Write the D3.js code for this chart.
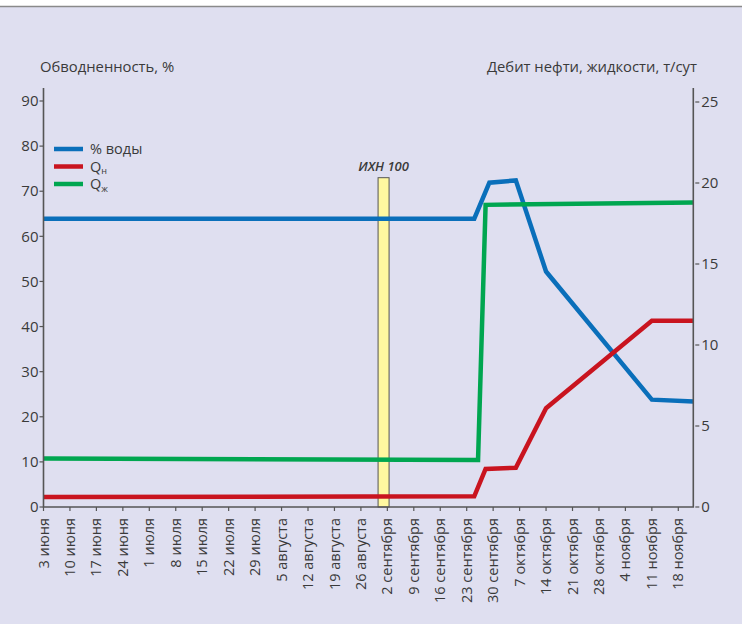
<!DOCTYPE html>
<html>
<head>
<meta charset="utf-8">
<script src="https://cdn.jsdelivr.net/npm/d3@7"></script>
<style>
  html, body { margin: 0; padding: 0; background: #fff; }
  svg { display: block; }
  text { font-family: "Open Sans", sans-serif; fill: #3a3a3a; }
</style>
</head>
<body>
<div id="chart"></div>
<script>
// weekly ticks on the x axis
const tickDates = ['2002-06-03', '2002-06-10', '2002-06-17', '2002-06-24', '2002-07-01', '2002-07-08',
  '2002-07-15', '2002-07-22', '2002-07-29', '2002-08-05', '2002-08-12', '2002-08-19', '2002-08-26',
  '2002-09-02', '2002-09-09', '2002-09-16', '2002-09-23', '2002-09-30', '2002-10-07', '2002-10-14',
  '2002-10-21', '2002-10-28', '2002-11-04', '2002-11-11', '2002-11-18'];
const tickLabels = ['3 июня', '10 июня', '17 июня', '24 июня', '1 июля', '8 июля', '15 июля', '22 июля',
  '29 июля', '5 августа', '12 августа', '19 августа', '26 августа', '2 сентября', '9 сентября',
  '16 сентября', '23 сентября', '30 сентября', '7 октября', '14 октября', '21 октября', '28 октября',
  '4 ноября', '11 ноября', '18 ноября'];

// % воды (left axis)
const waterDates = ['2002-06-03', '2002-09-25', '2002-09-29', '2002-10-06', '2002-10-14', '2002-11-11', '2002-11-22'];
const waterValues = [63.9, 63.9, 71.9, 72.4, 52.2, 23.8, 23.4];

// Qн (right axis)
const oilDates = ['2002-06-03', '2002-09-25', '2002-09-28', '2002-10-06', '2002-10-14', '2002-11-11', '2002-11-22'];
const oilValues = [0.62, 0.66, 2.35, 2.42, 6.1, 11.5, 11.5];

// Qж (right axis)
const liquidDates = ['2002-06-03', '2002-09-26', '2002-09-28', '2002-11-22'];
const liquidValues = [3.0, 2.9, 18.65, 18.8];

// treatment marker
const eventDate = '2002-09-01';
const eventLabel = 'ИХН 100';
const eventTop = 73;

const leftTicks = [0, 10, 20, 30, 40, 50, 60, 70, 80, 90];
const rightTicks = [0, 5, 10, 15, 20, 25];

const width = 742, height = 624;
const parse = d3.utcParse('%Y-%m-%d');

const svg = d3.select('#chart').append('svg')
  .attr('width', width)
  .attr('height', height);

// background
svg.append('rect').attr('width', width).attr('height', height).attr('fill', '#fff');
svg.append('rect').attr('y', 7).attr('width', width).attr('height', height - 7).attr('fill', '#dfdff0');
svg.append('line').attr('x1', 0).attr('x2', width).attr('y1', 6.5).attr('y2', 6.5)
  .attr('stroke', '#8a8a8a').attr('stroke-width', 1.5);

const x = d3.scaleUtc()
  .domain([parse(tickDates[0]), parse(tickDates[tickDates.length - 1])])
  .range([43.5, 678.3]);
const yL = d3.scaleLinear().domain([0, 90]).range([507, 101]);
const yR = d3.scaleLinear().domain([0, 25]).range([507, 102]);

const axisColor = '#555';
const x0 = 43.5, x1 = 693.3, yTop = 88, yBase = 507;

// yellow marker bar
svg.append('rect')
  .attr('x', x(parse(eventDate)) - 5.5)
  .attr('width', 11)
  .attr('y', yL(eventTop))
  .attr('height', yBase - yL(eventTop))
  .attr('fill', '#fff8a0')
  .attr('stroke', '#555')
  .attr('stroke-width', 1);
svg.append('text')
  .attr('x', x(parse(eventDate)))
  .attr('y', yL(eventTop) - 7)
  .attr('text-anchor', 'middle')
  .attr('font-size', 13)
  .attr('font-style', 'italic')
  .attr('font-weight', 600)
  .text(eventLabel);

// lines
const series = [
  { dates: waterDates, values: waterValues, y: yL, color: '#0a6fba' },
  { dates: liquidDates, values: liquidValues, y: yR, color: '#00a650' },
  { dates: oilDates, values: oilValues, y: yR, color: '#c9141f' }
];
series.forEach(s => {
  const pts = s.dates.map((d, i) => [parse(d), s.values[i]]);
  svg.append('path')
    .datum(pts)
    .attr('fill', 'none')
    .attr('stroke', s.color)
    .attr('stroke-width', 4.5)
    .attr('stroke-linejoin', 'miter')
    .attr('d', d3.line().x(d => x(d[0])).y(d => s.y(d[1])));
});

// axes lines
svg.append('path')
  .attr('d', `M${x0},${yTop}V${yBase}H${x1}V${yTop}`)
  .attr('fill', 'none')
  .attr('stroke', axisColor)
  .attr('stroke-width', 1.6);

// left ticks
leftTicks.forEach(v => {
  svg.append('line').attr('x1', x0 - 4).attr('x2', x0).attr('y1', yL(v)).attr('y2', yL(v))
    .attr('stroke', axisColor).attr('stroke-width', 1.2);
  svg.append('text').attr('x', x0 - 5).attr('y', yL(v)).attr('dy', '0.35em')
    .attr('text-anchor', 'end').attr('font-size', 15).text(v);
});

// right ticks
rightTicks.forEach(v => {
  svg.append('line').attr('x1', x1 + 2).attr('x2', x1 + 6).attr('y1', yR(v)).attr('y2', yR(v))
    .attr('stroke', axisColor).attr('stroke-width', 1.2);
  svg.append('text').attr('x', x1 + 8).attr('y', yR(v)).attr('dy', '0.35em')
    .attr('text-anchor', 'start').attr('font-size', 15).text(v);
});

// bottom ticks and labels
tickDates.forEach((d, i) => {
  const xp = x(parse(d));
  svg.append('line').attr('x1', xp).attr('x2', xp).attr('y1', yBase).attr('y2', yBase + 4)
    .attr('stroke', axisColor).attr('stroke-width', 1.2);
  svg.append('text')
    .attr('transform', `translate(${xp},${yBase + 11}) rotate(-90)`)
    .attr('dy', '0.35em')
    .attr('text-anchor', 'end')
    .attr('font-size', 14.5)
    .text(tickLabels[i]);
});

// axis titles
svg.append('text').attr('x', 40).attr('y', 72).attr('font-size', 14.8).text('Обводненность, %');
svg.append('text').attr('x', 697).attr('y', 72).attr('text-anchor', 'end').attr('font-size', 14.8)
  .text('Дебит нефти, жидкости, т/сут');

// legend
const legend = [
  { color: '#0a6fba', main: '% воды', sub: '' },
  { color: '#c9141f', main: 'Q', sub: 'н' },
  { color: '#00a650', main: 'Q', sub: 'ж' }
];
legend.forEach((l, i) => {
  const yy = 149 + i * 17.5;
  svg.append('line').attr('x1', 54).attr('x2', 83).attr('y1', yy).attr('y2', yy)
    .attr('stroke', l.color).attr('stroke-width', 4.5);
  const t = svg.append('text').attr('x', 90).attr('y', yy).attr('dy', '0.35em').attr('font-size', 14.5);
  t.append('tspan').text(l.main);
  if (l.sub) t.append('tspan').attr('font-size', 9).attr('dy', '0.3em').text(l.sub);
});
</script>
</body>
</html>
